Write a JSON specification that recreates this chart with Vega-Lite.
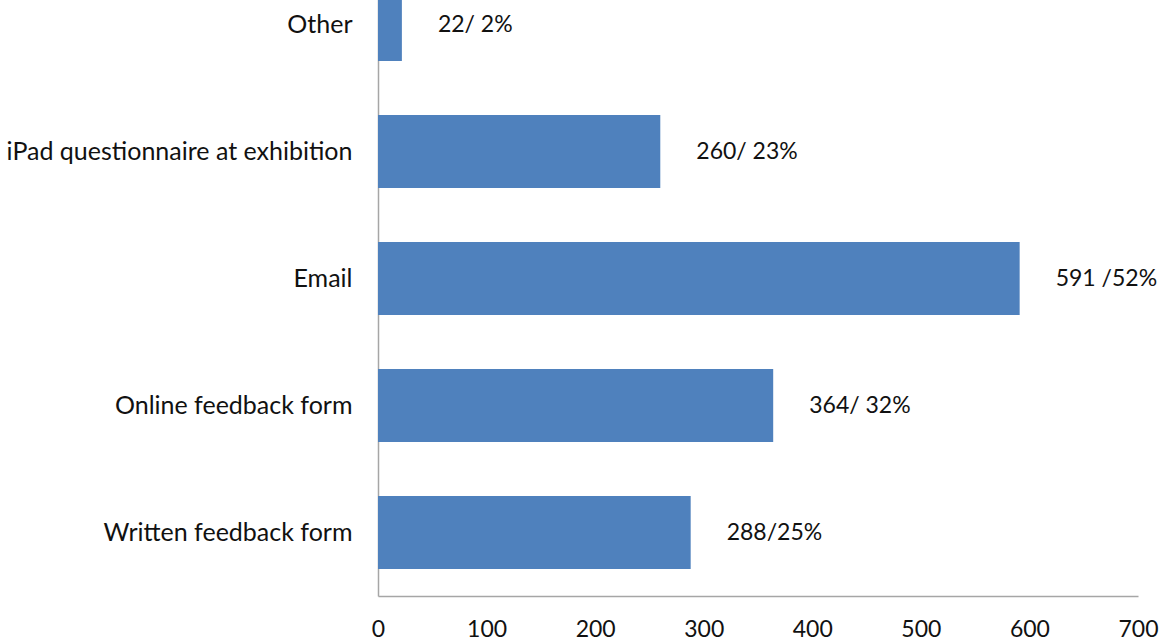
{
  "$schema": "https://vega.github.io/schema/vega-lite/v6.json",
  "autosize": {"type": "none"},
  "width": 760,
  "height": 596,
  "padding": {"left": 378, "top": 0, "right": 21, "bottom": 47},
  "background": "white",
  "config": {"view": {"stroke": null}, "font": "Lato"},
  "data": {"values": [
    {"method": "Other", "count": 22, "label": "22/ 2%"},
    {"method": "iPad questionnaire at exhibition", "count": 260, "label": "260/ 23%"},
    {"method": "Email", "count": 591, "label": "591 /52%"},
    {"method": "Online feedback form", "count": 364, "label": "364/ 32%"},
    {"method": "Written feedback form", "count": 288, "label": "288/25%"}
  ]},
  "encoding": {
    "y": {
      "field": "method", "type": "nominal",
      "sort": ["Other", "iPad questionnaire at exhibition", "Email", "Online feedback form", "Written feedback form"],
      "scale": {"range": [-39, 596], "paddingInner": 0.425, "paddingOuter": 0.2125},
      "axis": {"title": null, "ticks": false, "labelPadding": 26, "labelFontSize": 25, "labelColor": "#111", "labelFont": "Lato", "domainColor": "#a6a6a6", "domainWidth": 1.5, "labelLimit": 400}
    }
  },
  "layer": [
    {
      "mark": {"type": "bar", "color": "#4F81BD", "clip": true},
      "encoding": {
        "x": {
          "field": "count", "type": "quantitative",
          "scale": {"domain": [0, 700], "nice": false},
          "axis": {"title": null, "grid": false, "ticks": false, "values": [0, 100, 200, 300, 400, 500, 600, 700], "labelPadding": 22, "labelFontSize": 23, "labelColor": "#111", "labelFont": "Lato", "domainColor": "#a6a6a6", "domainWidth": 1.5, "labelFlush": false}
        }
      }
    },
    {
      "mark": {"type": "text", "align": "left", "baseline": "middle", "dx": 36, "fontSize": 23, "font": "Lato", "color": "#111"},
      "encoding": {
        "x": {"field": "count", "type": "quantitative"},
        "text": {"field": "label"}
      }
    }
  ]
}
